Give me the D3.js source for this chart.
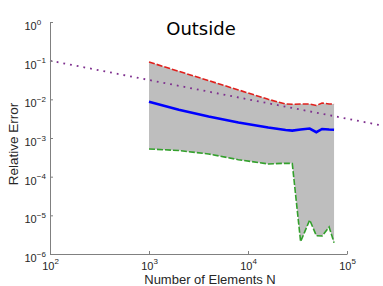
<!DOCTYPE html>
<html>
<head>
<meta charset="utf-8">
<script src="https://cdn.jsdelivr.net/npm/d3@7"></script>
<style>
  body { margin: 0; background: #fff; }
  svg { display: block; }
</style>
</head>
<body>
<div id="chart"></div>
<script>
// values
const elements = [1000, 2000, 4000, 8000, 16000, 24000, 28000, 34000, 42000, 49000, 56000, 66000, 74000];
const upperError = [0.0924, 0.0531, 0.0305, 0.0175, 0.0100, 0.00757, 0.00745, 0.00757, 0.00757, 0.00693, 0.00804, 0.00757, 0.00757];
const meanError = [0.00869, 0.0054, 0.0036, 0.00252, 0.00187, 0.00161, 0.00155, 0.00166, 0.00176, 0.00141, 0.00171, 0.00166, 0.00164];
const lowerError = [5.2e-4, 4.75e-4, 3.86e-4, 2.75e-4, 2.13e-4, 2.22e-4, 2.19e-4, 2.08e-6, 7.59e-6, 2.98e-6, 2.92e-6, 5.0e-6, 1.96e-6];
const refN = [100, 300000];
const refError = [0.1, 0.001826];
const xTicks = [1e2, 1e3, 1e4, 1e5];
const yTicks = [1e0, 1e-1, 1e-2, 1e-3, 1e-4, 1e-5, 1e-6];

const width = 383;
const height = 286;
const margin = { top: 22, right: 36, bottom: 32, left: 50 };

const svg = d3.select('#chart')
  .append('svg')
  .attr('width', width)
  .attr('height', height);

const x = d3.scaleLog()
  .domain([1e2, 1e5])
  .range([margin.left, width - margin.right]);

const y = d3.scaleLog()
  .domain([1e-6, 1e0])
  .range([height - margin.bottom, margin.top]);

const rows = elements.map((n, i) => ({ n, hi: upperError[i], mid: meanError[i], lo: lowerError[i] }));

// shaded band between min and max
svg.append('path')
  .datum(rows)
  .attr('fill', '#bebebe')
  .attr('d', d3.area()
    .x(d => x(d.n))
    .y0(d => y(d.lo))
    .y1(d => y(d.hi)));

const line = key => d3.line().x(d => x(d.n)).y(d => y(d[key]));

svg.append('path')
  .datum(rows)
  .attr('fill', 'none')
  .attr('stroke', '#e0201c')
  .attr('stroke-width', 1.6)
  .attr('stroke-dasharray', '6,2')
  .attr('d', line('hi'));

svg.append('path')
  .datum(rows)
  .attr('fill', 'none')
  .attr('stroke', '#33a02c')
  .attr('stroke-width', 1.6)
  .attr('stroke-dasharray', '6,2')
  .attr('d', line('lo'));

svg.append('path')
  .datum(rows)
  .attr('fill', 'none')
  .attr('stroke', '#0000ff')
  .attr('stroke-width', 2.6)
  .attr('d', line('mid'));

// reference slope line
svg.append('path')
  .datum(refN.map((n, i) => ({ n, e: refError[i] })))
  .attr('fill', 'none')
  .attr('stroke', '#7e2f8e')
  .attr('stroke-width', 1.8)
  .attr('stroke-dasharray', '1.8,5')
  .attr('d', d3.line().x(d => x(d.n)).y(d => y(d.e)));

const sup = sel => sel.each(function (d) {
  const t = d3.select(this);
  t.text('');
  t.append('tspan').text('10');
  t.append('tspan')
    .attr('dy', -5.5)
    .attr('font-size', '8px')
    .text(Math.round(Math.log10(d)).toString().replace('-', '\u2212'));
});

// Y-AXIS
const gy = svg.append('g')
  .attr('transform', `translate(${margin.left},0)`)
  .call(d3.axisLeft(y).tickValues(yTicks).tickSizeInner(-3).tickSizeOuter(0).tickPadding(25.5));
gy.select('.domain').attr('stroke', '#808080');
gy.selectAll('.tick line').attr('stroke', '#808080');
gy.selectAll('.tick text')
  .attr('text-anchor', 'start')
  .attr('dy', 7.5)
  .attr('fill', '#262626')
  .attr('font-family', 'Liberation Sans, Arial, sans-serif')
  .attr('font-size', '11px')
  .call(sup);

// X-AXIS
const gx = svg.append('g')
  .attr('transform', `translate(0,${height - margin.bottom})`)
  .call(d3.axisBottom(x).tickValues(xTicks).tickSizeInner(-3).tickSizeOuter(0));
gx.select('.domain').attr('stroke', '#808080');
gx.selectAll('.tick line').attr('stroke', '#808080');
gx.selectAll('.tick text')
  .attr('y', 15.5)
  .attr('dy', 0)
  .attr('fill', '#262626')
  .attr('font-family', 'Liberation Sans, Arial, sans-serif')
  .attr('font-size', '11px')
  .call(sup);

svg.append('text')
  .attr('x', 201)
  .attr('y', 35)
  .attr('text-anchor', 'middle')
  .attr('font-family', 'DejaVu Sans, sans-serif')
  .attr('font-size', '18px')
  .attr('fill', '#000')
  .text('Outside');

svg.append('text')
  .attr('x', 210)
  .attr('y', 284)
  .attr('text-anchor', 'middle')
  .attr('font-family', 'Liberation Sans, Arial, sans-serif')
  .attr('font-size', '13px')
  .attr('fill', '#262626')
  .text('Number of Elements N');

svg.append('text')
  .attr('transform', 'translate(18,144) rotate(-90)')
  .attr('text-anchor', 'middle')
  .attr('font-family', 'Liberation Sans, Arial, sans-serif')
  .attr('font-size', '13.5px')
  .attr('fill', '#262626')
  .text('Relative Error');
</script>
</body>
</html>
